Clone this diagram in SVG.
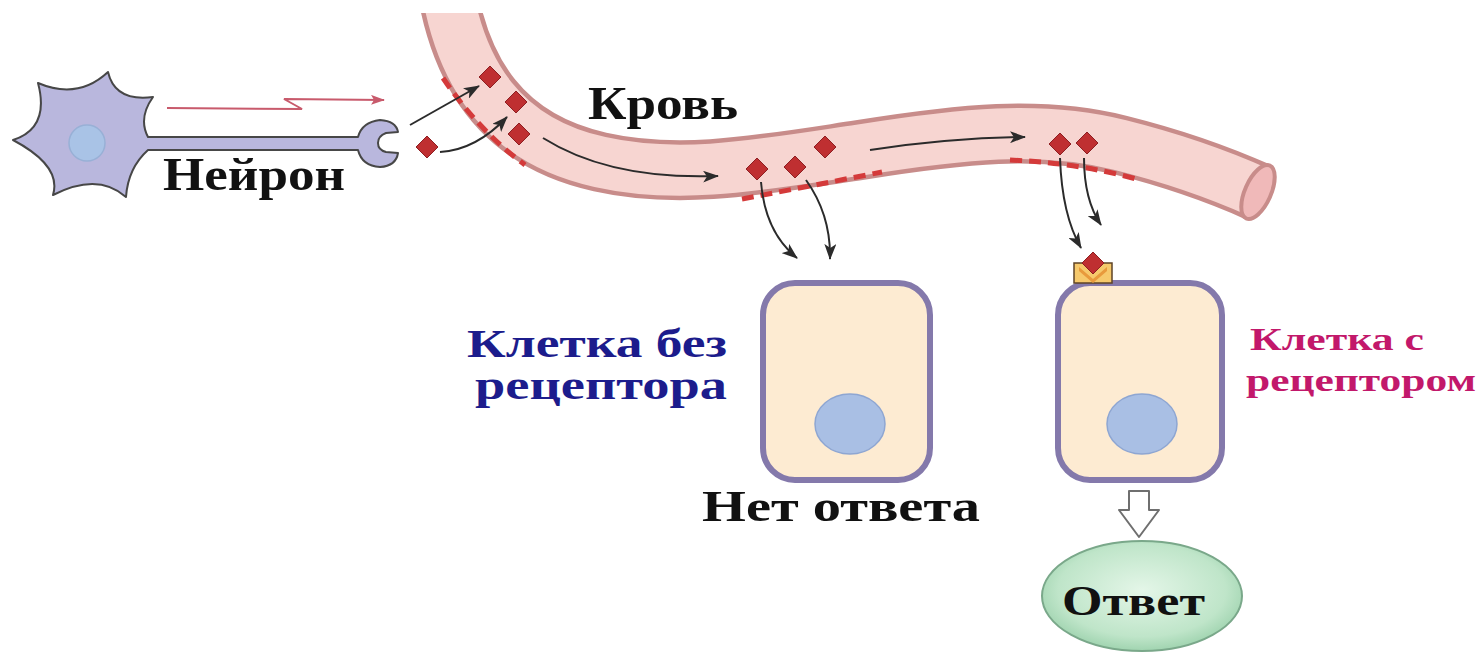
<svg xmlns="http://www.w3.org/2000/svg" width="1482" height="653" viewBox="0 0 1482 653">
  <style>
    .lbl { font-family: "Liberation Serif", "DejaVu Serif", serif; font-weight: bold; }
    .blk { fill: #111; }
    .blue { fill: #1c1c8c; }
    .mag { fill: #c2186b; }
    .flow { fill: none; stroke: #2b2b2b; stroke-width: 2; marker-end: url(#ah); }
    .wall { fill: none; stroke: #d43a3a; stroke-width: 5; stroke-dasharray: 12 7; }
    .cell { fill: #fdebd2; stroke: #8479ab; stroke-width: 6; }
    .nuc { fill: #a9bfe4; stroke: #8ea6d2; stroke-width: 1.5; }
    .hormone { fill: #bf2f31; stroke: #8e1f22; stroke-width: 1; }
  </style>
  <defs>
    <marker id="ah" markerUnits="userSpaceOnUse" markerWidth="16" markerHeight="12" refX="15" refY="6" orient="auto">
      <path d="M0,0 L16,6 L0,12 L4,6 Z" fill="#2b2b2b"/>
    </marker>
    <marker id="sig" markerUnits="userSpaceOnUse" markerWidth="14" markerHeight="10" refX="13" refY="5" orient="auto">
      <path d="M0,0 L14,5 L0,10 L3,5 Z" fill="#c85a6c"/>
    </marker>
    <path id="dia" d="M0,-11 L11,0 L0,11 L-11,0 Z"/>
    <clipPath id="vesselClip">
      <rect x="0" y="13" width="1482" height="640"/>
    </clipPath>
    <radialGradient id="respFill" cx="0.5" cy="0.45" r="0.6">
      <stop offset="0" stop-color="#e4f6e8"/>
      <stop offset="0.7" stop-color="#bfe5c9"/>
      <stop offset="1" stop-color="#94cda6"/>
    </radialGradient>
  </defs>

  <rect width="1482" height="653" fill="#ffffff"/>

  <!-- blood vessel -->
  <g id="vessel" clip-path="url(#vesselClip)">
    <path d="M448,-5 C462,70 500,140 600,162 C680,180 760,165 860,150 C960,134 1040,125 1120,145 C1180,160 1220,175 1258,192" fill="none" stroke="#c88c8a" stroke-width="60"/>
    <path d="M448,-5 C462,70 500,140 600,162 C680,180 760,165 860,150 C960,134 1040,125 1120,145 C1180,160 1220,175 1258,192" fill="none" stroke="#f7d5d1" stroke-width="51"/>
    <ellipse cx="1258" cy="192" rx="13" ry="29" transform="rotate(24 1258 192)" fill="#f0b9b9" stroke="#c88c8a" stroke-width="4"/>
    <path class="wall" d="M443,78 Q478,130 525,165"/>
    <path class="wall" d="M742,199 Q810,186 882,172"/>
    <path class="wall" d="M1010,160 Q1080,163 1140,180"/>
  </g>
  <g id="vessel-label">
    <text class="lbl blk" x="588" y="119" font-size="46" textLength="150" lengthAdjust="spacingAndGlyphs">Кровь</text>
  </g>

  <!-- neuron -->
  <g id="neuron">
    <path d="M108,72 Q115,102 153,97 Q138,118 148,137 L358,137 Q362,122 380,120 Q396,121 398,132 L386,133 Q378,136 378,143 Q378,150 386,152 L398,153 Q396,166 380,167 Q362,166 358,150 L148,150 Q128,168 126,197 Q98,172 53,195 Q62,166 13,140 Q50,128 38,83 Q78,100 108,72 Z" fill="#b9b7dd" stroke="#474747" stroke-width="2" stroke-linejoin="round"/>
    <circle cx="87" cy="143" r="18" fill="#a9c3e6" stroke="#98b0d6" stroke-width="1.5"/>
    <path d="M167,108 L302,109 L284,99 L384,100" fill="none" stroke="#c85a6c" stroke-width="2" marker-end="url(#sig)"/>
    <text class="lbl blk" x="163" y="190" font-size="46" textLength="182" lengthAdjust="spacingAndGlyphs">Нейрон</text>
  </g>

  <!-- hormone molecules -->
  <g id="hormones" class="hormone">
    <use href="#dia" x="427" y="147"/>
    <use href="#dia" x="490" y="77"/>
    <use href="#dia" x="516" y="102"/>
    <use href="#dia" x="519" y="134"/>
    <use href="#dia" x="757" y="169"/>
    <use href="#dia" x="795" y="167"/>
    <use href="#dia" x="825" y="147"/>
    <use href="#dia" x="1060" y="144"/>
    <use href="#dia" x="1087" y="143"/>
  </g>

  <!-- cell without receptor -->
  <g id="cell-no-receptor">
    <rect class="cell" x="763" y="283" width="167" height="197" rx="32"/>
    <ellipse class="nuc" cx="850" cy="424" rx="35" ry="30"/>
    <text class="lbl blue" x="467" y="357" font-size="40" textLength="260" lengthAdjust="spacingAndGlyphs">Клетка без</text>
    <text class="lbl blue" x="475" y="399" font-size="40" textLength="252" lengthAdjust="spacingAndGlyphs">рецептора</text>
    <text class="lbl blk" x="702" y="521" font-size="45" textLength="278" lengthAdjust="spacingAndGlyphs">Нет ответа</text>
  </g>

  <!-- cell with receptor -->
  <g id="cell-receptor">
    <rect class="cell" x="1058" y="283" width="164" height="197" rx="32"/>
    <ellipse class="nuc" cx="1142" cy="424" rx="35" ry="30"/>
    <rect x="1074" y="263" width="38" height="20" fill="#f6c96c" stroke="#5e4326" stroke-width="1.5"/>
    <path d="M1079,267 L1093,279 L1107,267 L1107,271 L1093,283 L1079,271 Z" fill="#e89a3c"/>
    <use href="#dia" x="1093" y="263" class="hormone"/>
    <text class="lbl mag" x="1250" y="350" font-size="32" textLength="174" lengthAdjust="spacingAndGlyphs">Клетка с</text>
    <text class="lbl mag" x="1246" y="391" font-size="32" textLength="230" lengthAdjust="spacingAndGlyphs">рецептором</text>
  </g>

  <!-- response -->
  <g id="response">
    <path d="M1129,491 L1149,491 L1149,510 L1159,510 L1139,537 L1119,510 L1129,510 Z" fill="#ffffff" stroke="#6f6f6f" stroke-width="2" stroke-linejoin="round"/>
    <ellipse cx="1142" cy="596" rx="100" ry="55" fill="url(#respFill)" stroke="#7aa88a" stroke-width="2"/>
    <text class="lbl blk" x="1062" y="615" font-size="42" textLength="143" lengthAdjust="spacingAndGlyphs">Ответ</text>
  </g>

  <!-- hormone movement -->
  <g id="connectors">
    <path class="flow" d="M410,125 L479,86"/>
    <path class="flow" d="M440,152 Q476,150 507,117"/>
    <path class="flow" d="M543,138 Q610,180 718,176"/>
    <path class="flow" d="M870,150 Q950,138 1025,137"/>
    <path class="flow" d="M761,182 Q765,232 797,258"/>
    <path class="flow" d="M806,180 Q831,215 830,259"/>
    <path class="flow" d="M1060,158 Q1062,215 1081,248"/>
    <path class="flow" d="M1084,158 Q1084,200 1101,225"/>
  </g>
</svg>
